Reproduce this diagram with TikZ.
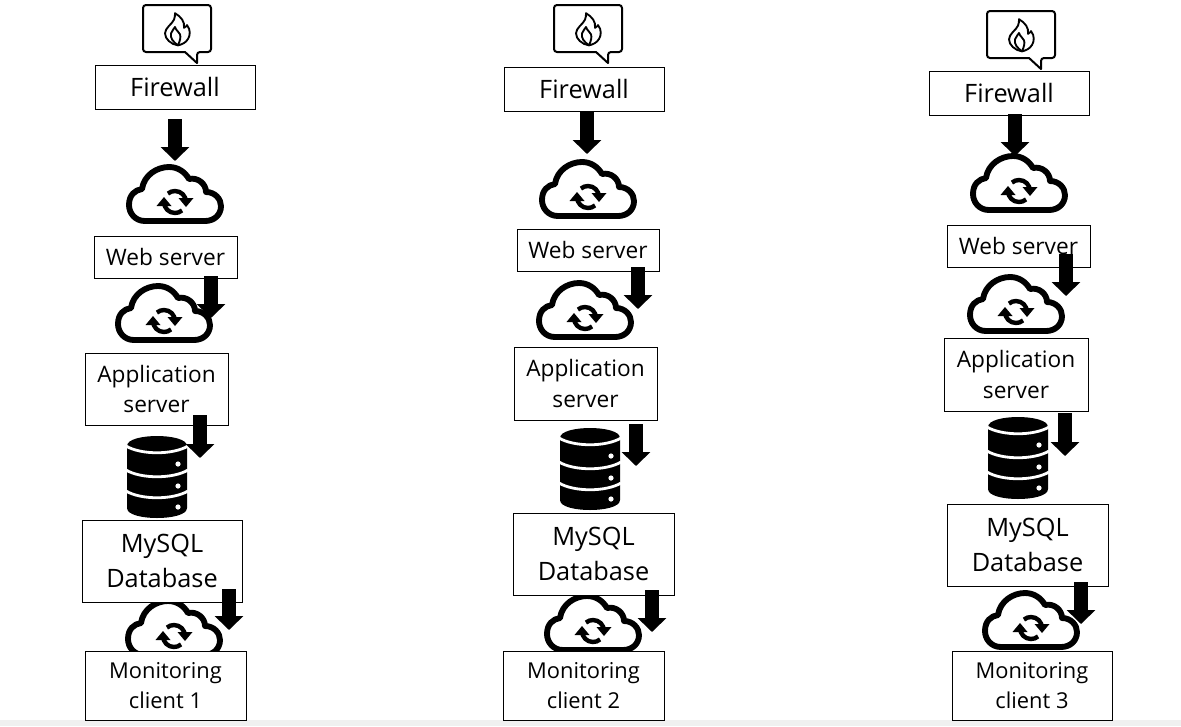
\documentclass[tikz,border=0pt]{standalone}
\usepackage{fontspec}
\setmainfont{Open Sans}
\usetikzlibrary{arrows.meta}
\newcommand{\pboxnode}[7]{%
  \pgfmathsetmacro{\pbw}{(#4-#2)*0.75}\pgfmathsetmacro{\pbh}{(#5-#3)*0.75}%
  \node[infobox,#6,minimum width=\pbw pt,minimum height=\pbh pt] (#1) at ({(#2+#4)/2},{(#3+#5)/2}) {#7};}
\tikzset{
  x=0.75pt,y=-0.75pt,
  infobox/.style={draw=black,fill=white,line width=0.7pt,align=center,inner sep=0pt,outer sep=0pt},
  bigtext/.style={font=\fontsize{19}{26}\selectfont},
  midtext/.style={font=\fontsize{17}{23}\selectfont},
  lowtext/.style={font=\fontsize{16.4}{22}\selectfont},
  blockarrow/.style={line width=10.5pt,-{Triangle[length=10.5pt,width=21pt]},black},
  cloud icon/.pic={
    \draw[line width=4.4pt,line join=round,fill=white] (-30,27) .. controls (-40,27) and (-46,19) .. (-46,11)
      .. controls (-46,1) and (-40,-4) .. (-33,-5)
      .. controls (-31,-19) and (-18,-27) .. (-6,-27)
      .. controls (3,-27) and (10,-22) .. (14,-15)
      .. controls (23,-17) and (31,-10) .. (31,-2)
      .. controls (40,-2) and (46,5) .. (46,12)
      .. controls (46,21) and (39,27) .. (30,27) -- cycle;
    \draw[line width=3.3pt] (-11,8) arc[start angle=180,end angle=50,radius=11];
    \draw[line width=3.3pt] (11,8) arc[start angle=0,end angle=-130,radius=11];
    \fill (3.5,4) -- (18.5,4) -- (11,13) -- cycle;
    \fill (-3.5,12) -- (-18.5,12) -- (-11,3) -- cycle;
  },
  db icon/.pic={
    \fill (-30,-31) .. controls (-30,-38) and (-14,-41) .. (0,-41)
      .. controls (14,-41) and (30,-38) .. (30,-31)
      -- (30,31) .. controls (30,38) and (14,41) .. (0,41)
      .. controls (-14,41) and (-30,38) .. (-30,31) -- cycle;
    \foreach \yy in {-31,-7,14}{
      \draw[white,line width=2.1pt] (-31,\yy) .. controls (-16,\yy+9) and (16,\yy+9) .. (31,\yy);
    }
    \foreach \yy in {-13,9,30}{ \fill[white] (21,\yy) circle[radius=2.6]; }
  },
  fire icon/.pic={
    \draw[line width=1.5pt,line join=round,rounded corners=2.2pt] (-34,-27) -- (34,-27) -- (34,20) -- (20,20)
      [sharp corners] -- (20,31) -- (8,20) [rounded corners=2.2pt] -- (-34,20) -- cycle;
    \begin{scope}[yscale=0.92,yshift=1.1pt]
    \draw[line width=1.4pt,line join=round] (1,16) .. controls (-6,15) and (-12,9) .. (-12,3)
      .. controls (-12,-3) and (-5,-7) .. (-3,-12) .. controls (-2,-14) and (-2,-17) .. (-2,-19)
      .. controls (4,-15) and (8,-10) .. (7,-3) .. controls (9,-4) and (10,-6) .. (10,-6)
      .. controls (14,-1) and (13,6) .. (11,9) .. controls (9,13) and (5,15) .. (1,16) -- cycle;
    \draw[line width=1.4pt,line join=round] (1,16) .. controls (-4,12) and (-7,8) .. (-6,3)
      .. controls (-5,0) and (-3,-2) .. (-2,-4) .. controls (-1,0) and (2,1) .. (3,4)
      .. controls (4,7) and (3,11) .. (1,16);
    \end{scope}
  }
}
\begin{document}
\begin{tikzpicture}
\useasboundingbox (0,0) rectangle (1181,726);
\fill[black!6] (0,720) rectangle (1181,726);
% icons, under the boxes
\pic at (177,32) {fire icon};
\pic at (175,194) {cloud icon};
\pic at (164,313) {cloud icon};
\pic at (157,477) {db icon};
\pic at (174,628) {cloud icon};
\pic at (588,32) {fire icon};
\pic at (588,189) {cloud icon};
\pic at (585,310) {cloud icon};
\pic at (590,469) {db icon};
\pic at (593,623) {cloud icon};
\pic at (1021,38) {fire icon};
\pic at (1019,183) {cloud icon};
\pic at (1016,304) {cloud icon};
\pic at (1018,458) {db icon};
\pic at (1031,620) {cloud icon};
% boxes
\pboxnode{fwa}{95}{65}{255}{109}{bigtext}{Firewall}
\pboxnode{wsa}{94}{236}{237}{278}{midtext}{Web server}
\pboxnode{asa}{85}{353}{228}{425}{midtext}{Application\\server}
\pboxnode{dba}{82}{520}{242}{602}{bigtext}{MySQL\\Database}
\pboxnode{mca}{85}{651}{246}{720}{lowtext}{Monitoring\\client 1}
\pboxnode{fwb}{504}{67}{664}{111}{bigtext}{Firewall}
\pboxnode{wsb}{517}{229}{659}{271}{midtext}{Web server}
\pboxnode{asb}{514}{347}{657}{420}{midtext}{Application\\server}
\pboxnode{dbb}{513}{513}{674}{595}{bigtext}{MySQL\\Database}
\pboxnode{mcb}{503}{651}{664}{720}{lowtext}{Monitoring\\client 2}
\pboxnode{fwc}{929}{71}{1089}{115}{bigtext}{Firewall}
\pboxnode{wsc}{947}{225}{1090}{267}{midtext}{Web server}
\pboxnode{asc}{944}{338}{1088}{411}{midtext}{Application\\server}
\pboxnode{dbc}{947}{504}{1108}{586}{bigtext}{MySQL\\Database}
\pboxnode{mcc}{952}{651}{1112}{720}{lowtext}{Monitoring\\client 3}
% block arrows
\coordinate (a1s) at (175,119); \coordinate (a1e) at (175,161);
\coordinate (a2s) at (211,276); \coordinate (a2e) at (211,318);
\coordinate (a3s) at (200,415); \coordinate (a3e) at (200,458);
\coordinate (a4s) at (229,589); \coordinate (a4e) at (229,630);
\coordinate (b1s) at (587,112); \coordinate (b1e) at (587,154);
\coordinate (b2s) at (638,267); \coordinate (b2e) at (638,309);
\coordinate (b3s) at (636,424); \coordinate (b3e) at (636,466);
\coordinate (b4s) at (652,590); \coordinate (b4e) at (652,632);
\coordinate (c1s) at (1015,114); \coordinate (c1e) at (1015,156);
\coordinate (c2s) at (1066,254); \coordinate (c2e) at (1066,296);
\coordinate (c3s) at (1065,413); \coordinate (c3e) at (1065,456);
\coordinate (c4s) at (1081,582); \coordinate (c4e) at (1081,624);
\foreach \c in {a1,a2,a3,a4,b1,b2,b3,b4,c1,c2,c3,c4}{
  \draw[blockarrow] (\c s) -- (\c e);
}
\end{tikzpicture}
\end{document}
